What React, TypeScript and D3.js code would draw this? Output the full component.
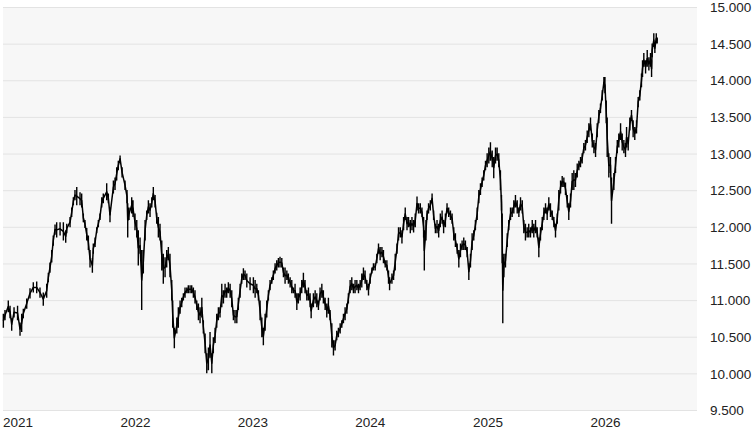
import React from "react";
import * as d3 from "d3";

// price readings (decimal year, high, low) taken off the chart
const obsYears = [
  2021.003, 2021.017, 2021.045, 2021.06, 2021.074, 2021.094, 2021.124, 2021.145, 2021.159, 2021.173,
  2021.202, 2021.23, 2021.258, 2021.287, 2021.315, 2021.343, 2021.372, 2021.386, 2021.4, 2021.415,
  2021.428, 2021.443, 2021.457, 2021.486, 2021.514, 2021.534, 2021.543, 2021.571, 2021.585, 2021.599,
  2021.613, 2021.628, 2021.656, 2021.67, 2021.684, 2021.698, 2021.713, 2021.727, 2021.741, 2021.761,
  2021.769, 2021.784, 2021.798, 2021.812, 2021.826, 2021.841, 2021.854, 2021.883, 2021.897, 2021.911,
  2021.94, 2021.954, 2021.968, 2021.982, 2021.997,
  2022.014, 2022.039, 2022.056, 2022.062, 2022.073, 2022.096, 2022.107, 2022.124, 2022.139, 2022.152,
  2022.167, 2022.181, 2022.195, 2022.21, 2022.224, 2022.238, 2022.252, 2022.267, 2022.28, 2022.295,
  2022.309, 2022.323, 2022.337, 2022.352, 2022.365, 2022.38, 2022.394, 2022.408, 2022.422, 2022.437,
  2022.445, 2022.459, 2022.48, 2022.493, 2022.508, 2022.522, 2022.536, 2022.55, 2022.565, 2022.578,
  2022.593, 2022.607, 2022.621, 2022.635, 2022.65, 2022.664, 2022.678, 2022.693, 2022.706, 2022.721,
  2022.735, 2022.749, 2022.763, 2022.778, 2022.791, 2022.806, 2022.82, 2022.834, 2022.848, 2022.863,
  2022.877, 2022.891, 2022.905, 2022.919, 2022.934, 2022.948, 2022.962, 2022.976, 2022.991, 2023.004,
  2023.019, 2023.033, 2023.047, 2023.061, 2023.076, 2023.104, 2023.132, 2023.147, 2023.161, 2023.175,
  2023.189, 2023.204, 2023.217, 2023.232, 2023.246, 2023.26, 2023.274, 2023.289, 2023.302, 2023.317,
  2023.331, 2023.345, 2023.359, 2023.374, 2023.388, 2023.402, 2023.417, 2023.43, 2023.445, 2023.459,
  2023.473, 2023.487, 2023.502, 2023.515, 2023.53, 2023.544, 2023.558, 2023.572, 2023.587, 2023.601,
  2023.615, 2023.624, 2023.643, 2023.658, 2023.672, 2023.686, 2023.7, 2023.715, 2023.728, 2023.743,
  2023.757, 2023.771, 2023.785, 2023.8, 2023.814, 2023.828, 2023.842, 2023.856, 2023.871, 2023.885,
  2023.899, 2023.913, 2023.928, 2023.941, 2023.956, 2023.97, 2023.984, 2023.998, 2024.013, 2024.027,
  2024.041, 2024.055, 2024.069,
  2024.083, 2024.098, 2024.112, 2024.126, 2024.141, 2024.154, 2024.169, 2024.183, 2024.197, 2024.211,
  2024.226, 2024.239, 2024.254, 2024.268, 2024.282, 2024.291, 2024.311, 2024.325, 2024.339, 2024.354,
  2024.367, 2024.382, 2024.396, 2024.41, 2024.424, 2024.439, 2024.452, 2024.467, 2024.481, 2024.495,
  2024.509, 2024.524, 2024.537, 2024.552, 2024.566, 2024.58, 2024.586, 2024.6, 2024.609, 2024.622,
  2024.637, 2024.652, 2024.665, 2024.68, 2024.694, 2024.708, 2024.722, 2024.737, 2024.75, 2024.765,
  2024.779, 2024.793, 2024.808, 2024.822, 2024.836, 2024.85, 2024.865, 2024.879, 2024.893, 2024.907,
  2024.921, 2024.935, 2024.95, 2024.964, 2024.978, 2024.992, 2025.006, 2025.02, 2025.035, 2025.049,
  2025.063, 2025.077, 2025.091, 2025.106, 2025.12, 2025.134, 2025.148, 2025.163, 2025.176, 2025.191,
  2025.205, 2025.219, 2025.233, 2025.242, 2025.248, 2025.253, 2025.262, 2025.276, 2025.291, 2025.304,
  2025.319, 2025.333, 2025.347, 2025.361, 2025.376, 2025.39, 2025.404, 2025.419, 2025.432, 2025.446,
  2025.461, 2025.474, 2025.489, 2025.504, 2025.517, 2025.532, 2025.546, 2025.56, 2025.574, 2025.589,
  2025.603, 2025.617, 2025.631, 2025.645, 2025.659, 2025.674, 2025.688, 2025.702, 2025.717, 2025.73,
  2025.745, 2025.759, 2025.773, 2025.787, 2025.802, 2025.815, 2025.83, 2025.844, 2025.858, 2025.872,
  2025.887, 2025.901, 2025.915, 2025.929, 2025.943, 2025.957, 2025.972, 2025.986, 2026.0,
  2026.015, 2026.029, 2026.043, 2026.057, 2026.071, 2026.085, 2026.1, 2026.114, 2026.123, 2026.134,
  2026.142, 2026.156, 2026.17, 2026.179, 2026.199, 2026.213, 2026.228, 2026.241, 2026.256, 2026.27,
  2026.284, 2026.298, 2026.307, 2026.321, 2026.335, 2026.349, 2026.363, 2026.377, 2026.392, 2026.406,
  2026.42, 2026.434, 2026.443, 2026.454, 2026.469, 2026.483, 2026.497, 2026.511, 2026.52, 2026.525,
  2026.539, 2026.548, 2026.56, 2026.568,
];

const obsHigh = [
  10820, 10870, 11000, 10930, 10760, 10910, 10930, 10700, 10820, 10890,
  11030, 11170, 11250, 11260, 11180, 11110, 11230, 11380, 11520, 11690,
  11890, 12040, 12070, 12070, 12070, 11960, 12050, 12140, 12270, 12410,
  12510, 12550, 12480, 12460, 12190, 12100, 11990, 11890, 11690, 11580,
  11780, 11860, 12000, 12100, 12190, 12410, 12460, 12600, 12460, 12270,
  12640, 12680, 12820, 12910, 12980,
  12820, 12640, 12510, 12330, 12270, 12410, 12370, 12190, 12100, 11960,
  11860, 11690, 11690, 12100, 12230, 12370, 12330, 12410, 12550, 12440,
  12200, 12140, 12050, 11820, 11640, 11590, 11690, 11730, 11640, 11280,
  11000, 10630, 10770, 10910, 11000, 11040, 11100, 11180, 11180, 11210,
  11210, 11210, 11180, 11140, 11000, 10960, 10910, 11040, 10730, 10550,
  10280, 10360, 10570, 10280, 10500, 10630, 10820, 10910, 10910, 11230,
  11140, 11230, 11180, 11250, 11230, 11140, 10870, 10870, 10870, 11040,
  11230, 11370, 11440, 11410, 11370, 11320, 11320, 11280, 11230, 11140,
  11000, 10770, 10630, 10820, 11000, 11140, 11280, 11320, 11410, 11510,
  11550, 11580, 11600, 11580, 11450, 11450, 11410, 11370, 11320, 11280,
  11180, 11230, 11100, 11100, 11180, 11280, 11380, 11280, 11140, 11180,
  11100, 10960, 11100, 11140, 11100, 11000, 11180, 11230, 11140, 11040,
  10960, 11040, 10870, 10690, 10460, 10460, 10590, 10630, 10690, 10730,
  10820, 10910, 10960, 11100, 11280, 11320, 11230, 11280, 11280, 11230,
  11280, 11370, 11450,
  11410, 11280, 11230, 11370, 11450, 11510, 11510, 11640, 11780, 11730,
  11730, 11690, 11550, 11550, 11410, 11320, 11370, 11410, 11640, 11780,
  12000, 12000, 11960, 12140, 12270, 12140, 12140, 12100, 12140, 12100,
  12190, 12420, 12330, 12330, 12270, 12140, 11960, 12100, 12230, 12330,
  12370, 12460, 12230, 12050, 12100, 12050, 12190, 12230, 12100, 12190,
  12330, 12270, 12230, 12190, 12000, 11920, 11780, 11690, 11780, 11820,
  11860, 11820, 11730, 11510, 11640, 11920, 11960, 12100, 12270, 12510,
  12600, 12680, 12780, 12910, 13010, 13090, 13160, 13050, 12960, 13090,
  13090, 13010, 12780, 12440, 12190, 11590, 11640, 11640, 11920, 12100,
  12270, 12270, 12370, 12440, 12370, 12270, 12410, 12370, 12100, 12050,
  12000, 12050, 12000, 12100, 12050, 12100, 12000, 11860, 12000, 12140,
  12270, 12330, 12270, 12410, 12330, 12230, 12140, 12050, 12190, 12510,
  12640, 12700, 12680, 12610, 12440, 12330, 12460, 12740, 12780, 12740,
  12870, 12910, 12960, 13010, 13150, 13190, 13320, 13420, 13500,
  13280, 13190, 13150, 13420, 13600, 13690, 13870, 14050, 14050, 13730,
  13500, 13010, 12960, 12680, 12740, 12960, 13190, 13280, 13420, 13280,
  13190, 13150, 13370, 13230, 13500, 13600, 13460, 13370, 13460, 13780,
  13870, 14100, 14280, 14380, 14280, 14420, 14320, 14380, 14280, 14510,
  14650, 14510, 14650, 14590,
];

const obsLow = [
  10630, 10730, 10840, 10760, 10590, 10770, 10730, 10520, 10570, 10760,
  10890, 11030, 11110, 11100, 11040, 10930, 11040, 11250, 11380, 11520,
  11750, 11900, 11860, 11890, 11820, 11790, 11920, 12000, 12140, 12300,
  12370, 12300, 12300, 12270, 12070, 11990, 11820, 11690, 11450, 11380,
  11640, 11730, 11920, 12000, 12100, 12270, 12330, 12370, 12330, 12070,
  12460, 12510, 12640, 12780, 12890,
  12680, 12510, 12330, 11860, 12100, 12190, 12140, 11960, 11860, 11480,
  11640, 10870, 11370, 11820, 12100, 12190, 12140, 12270, 12370, 12270,
  12050, 11860, 11820, 11410, 11230, 11320, 11450, 11550, 11320, 11000,
  10630, 10350, 10550, 10630, 10820, 10910, 11000, 11040, 11100, 11100,
  11100, 11100, 11040, 10960, 10870, 10730, 10690, 10770, 10550, 10280,
  10010, 10050, 10220, 10010, 10280, 10420, 10630, 10730, 10770, 10910,
  10960, 11040, 11040, 11100, 11040, 10910, 10730, 10690, 10690, 10870,
  11040, 11230, 11280, 11280, 11180, 11140, 11100, 11040, 11100, 11000,
  10730, 10500, 10390, 10590, 10770, 11000, 11140, 11230, 11280, 11370,
  11410, 11450, 11450, 11450, 11320, 11230, 11280, 11230, 11180, 11100,
  11100, 11040, 10870, 10960, 11000, 11100, 11180, 11100, 11000, 11000,
  10910, 10760, 10910, 10960, 10910, 10870, 11000, 11040, 10960, 10870,
  10770, 10820, 10730, 10360, 10250, 10320, 10460, 10500, 10550, 10630,
  10690, 10730, 10820, 10960, 11100, 11140, 11100, 11100, 11140, 11100,
  11140, 11180, 11280,
  11230, 11140, 11070, 11230, 11370, 11410, 11410, 11510, 11640, 11550,
  11590, 11510, 11450, 11410, 11230, 11140, 11230, 11280, 11410, 11640,
  11820, 11860, 11780, 11960, 12100, 11960, 12000, 11920, 11960, 11930,
  12000, 12230, 12190, 12190, 12140, 11860, 11410, 11820, 12100, 12190,
  12230, 12330, 12100, 11920, 11920, 11860, 12000, 12050, 11920, 12000,
  12190, 12140, 12100, 12050, 11820, 11730, 11640, 11450, 11590, 11690,
  11690, 11690, 11590, 11280, 11450, 11690, 11820, 11960, 12100, 12330,
  12440, 12550, 12640, 12780, 12820, 12870, 12910, 12820, 12670, 12870,
  12910, 12820, 12510, 12230, 11510, 10690, 11320, 11450, 11730, 11960,
  12100, 12140, 12190, 12270, 12190, 12140, 12230, 12190, 11920, 11820,
  11860, 11860, 11860, 11920, 11860, 11920, 11860, 11590, 11820, 11960,
  12100, 12190, 12100, 12230, 12140, 12100, 12000, 11860, 12050, 12230,
  12460, 12550, 12550, 12440, 12270, 12100, 12270, 12510, 12510, 12550,
  12680, 12780, 12820, 12870, 13010, 13050, 13150, 13230, 13320,
  13090, 13010, 12960, 13230, 13420, 13560, 13730, 13910, 13830, 13420,
  12960, 12680, 12740, 12050, 12510, 12740, 13010, 13090, 13190, 13050,
  13010, 12960, 13090, 13050, 13320, 13460, 13230, 13190, 13280, 13640,
  13730, 13910, 14050, 14190, 14100, 14190, 14140, 14190, 14050, 14320,
  14460, 14380, 14510, 14510,
];

const priceTicks = [9500, 10000, 10500, 11000, 11500, 12000, 12500, 13000, 13500, 14000, 14500, 15000];
const yearTicks = [2021, 2022, 2023, 2024, 2025, 2026];

const width = 753;
const height = 430;
const plot = { left: 3, right: 697, top: 7.5, bottom: 410.5 };
const font = "'Liberation Sans', Arial, Helvetica, sans-serif";

const deLocale = d3.formatLocale({ decimal: ",", thousands: ".", grouping: [3], currency: ["", " €"] });
const fmtPrice = deLocale.format(",d");

const yearToDate = (y: number) => {
  const yr = Math.floor(y);
  const start = new Date(yr, 0, 1).getTime();
  const end = new Date(yr + 1, 0, 1).getTime();
  return new Date(start + (y - yr) * (end - start));
};

export default function App() {
  const x = d3
    .scaleTime()
    .domain([new Date(2021, 0, 1), new Date(2026, 10, 28)])
    .range([plot.left, plot.right]);
  const y = d3.scaleLinear().domain([9500, 15000]).range([plot.bottom, plot.top]);

  const idx = obsYears.map((_, i) => i);

  // high-low bars, one per reading
  const bars = idx
    .map((i) => {
      const px = x(yearToDate(obsYears[i]));
      return `M${px},${y(obsHigh[i])}V${y(obsLow[i])}`;
    })
    .join("");

  // thin trace through the bar midpoints keeps the series continuous
  const mid =
    d3
      .line<number>()
      .x((i) => x(yearToDate(obsYears[i])))
      .y((i) => y((obsHigh[i] + obsLow[i]) / 2))(idx) || "";

  return (
    <div style={{ position: "absolute", left: 0, top: 0 }}>
      <svg width={width} height={height} style={{ display: "block", background: "#fff" }}>
        <rect
          x={plot.left}
          y={plot.top}
          width={plot.right - plot.left}
          height={plot.bottom - plot.top}
          fill="#f7f7f7"
        />
        {priceTicks.map((t) => (
          <line
            key={"g" + t}
            x1={plot.left}
            x2={plot.right}
            y1={y(t)}
            y2={y(t)}
            stroke="#e3e3e3"
            strokeWidth={1}
          />
        ))}
        <path d={mid} fill="none" stroke="#000" strokeWidth={1.5} strokeLinejoin="round" />
        <path d={bars} fill="none" stroke="#000" strokeWidth={1.4} />
        {priceTicks.map((t) => (
          <text
            key={"l" + t}
            x={710}
            y={y(t)}
            dy="0.35em"
            fontFamily={font}
            fontSize={13.5}
            fill="#222"
          >
            {fmtPrice(t)}
          </text>
        ))}
        {yearTicks.map((yr) => (
          <text
            key={"x" + yr}
            x={x(new Date(yr, 0, 1))}
            y={427}
            fontFamily={font}
            fontSize={13.5}
            fill="#222"
          >
            {yr}
          </text>
        ))}
      </svg>
    </div>
  );
}
